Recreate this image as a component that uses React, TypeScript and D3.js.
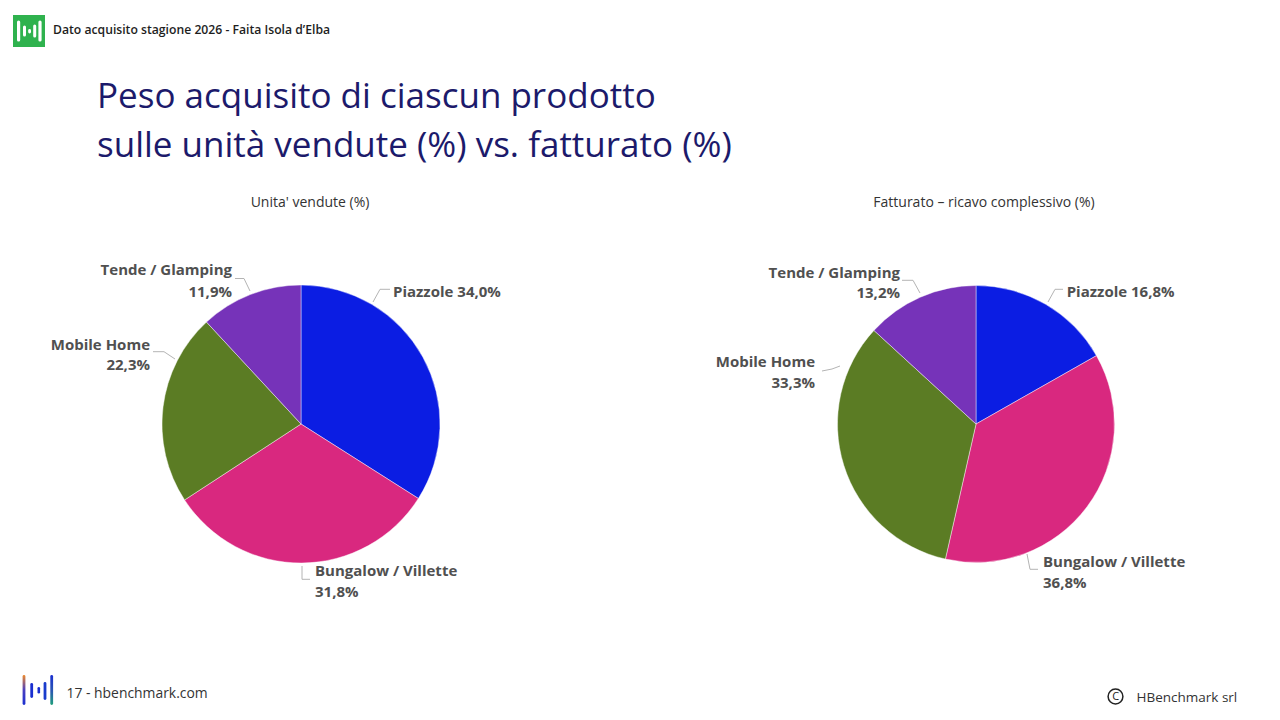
import React from "react";
import * as d3 from "d3";

const categories = ["Piazzole", "Bungalow / Villette", "Mobile Home", "Tende / Glamping"];
const unitsShare = [34.0, 31.8, 22.3, 11.9];
const revenueShare = [16.8, 36.8, 33.3, 13.2];
const colors = ["#0b1de3", "#d9287f", "#5b7c24", "#7633b9"];

const headerText = "Dato acquisito stagione 2026 - Faita Isola d\u2019Elba";
const titleLines = ["Peso acquisito di ciascun prodotto", "sulle unità vendute (%) vs. fatturato (%)"];
const pieTitles = ["Unita' vendute (%)", "Fatturato \u2013 ricavo complessivo (%)"];
const footerText = "17 - hbenchmark.com";
const copyrightText = "HBenchmark srl";

type LabelLayout = {
  leader: [number, number][];
  tx: number;
  ty: number[];
  anchor: "start" | "end";
  oneLine?: boolean;
};

// label placement (relative to pie centre), one per category
const leftLabels: LabelLayout[] = [
  { leader: [[72, -122], [79, -134.7], [89, -134.7]], tx: 92, ty: [-132.3], anchor: "start", oneLine: true },
  { leader: [[1, 142], [1, 155.3], [9, 155.3]], tx: 14, ty: [146.7, 167.7], anchor: "start" },
  { leader: [[-126, -65], [-137, -72.3], [-148, -72.3]], tx: -151, ty: [-79, -59], anchor: "end" },
  { leader: [[-51, -133], [-57, -145.5], [-66, -145.5]], tx: -69, ty: [-154, -132.3], anchor: "end" },
];
const rightLabels: LabelLayout[] = [
  { leader: [[72, -122], [79, -134.7], [87, -134.7]], tx: 90.7, ty: [-132.3], anchor: "start", oneLine: true },
  { leader: [[51, 130], [54, 145.3], [62, 145.3]], tx: 67, ty: [137.7, 158.7], anchor: "start" },
  { leader: [[-136, -58], [-144, -55], [-154, -53]], tx: -161, ty: [-62.3, -41.3], anchor: "end" },
  { leader: [[-56, -131], [-63, -143.7], [-74, -143.7]], tx: -76, ty: [-151.3, -131.3], anchor: "end" },
];

const fmt = (v: number) => d3.format(".1f")(v).replace(".", ",") + "%";
const FONT = "'Open Sans', sans-serif";

function Pie({ cx, cy, r, values, labels, title, titleX }: {
  cx: number; cy: number; r: number; values: number[]; labels: LabelLayout[]; title: string; titleX: number;
}) {
  const pie = d3.pie<number>().sort(null).value((d) => d);
  const arcs = pie(values);
  const arc = d3.arc<d3.PieArcDatum<number>>().innerRadius(0).outerRadius(r);
  const line = d3.line();
  return (
    <g>
      <text x={titleX} y={202} dy="0.35em" textAnchor="middle" fontSize={14} fill="#333" fontFamily={FONT}>
        {title}
      </text>
      <g transform={`translate(${cx},${cy})`}>
        {arcs.map((a, i) => (
          <path key={i} d={arc(a) || ""} fill={colors[i]} stroke="#ffffff" strokeOpacity={0.55} strokeWidth={0.8} />
        ))}
        {labels.map((l, i) => (
          <g key={i}>
            <path d={line(l.leader) || ""} fill="none" stroke="#b4b4b4" strokeWidth={1} />
            {l.oneLine ? (
              <text x={l.tx} y={l.ty[0]} dy="0.35em" textAnchor={l.anchor} fontSize={15} fontWeight={700} fill="#505050" fontFamily={FONT}>
                {categories[i] + " " + fmt(values[i])}
              </text>
            ) : (
              <text textAnchor={l.anchor} fontSize={15} fontWeight={700} fill="#505050" fontFamily={FONT}>
                <tspan x={l.tx} y={l.ty[0]} dy="0.35em">{categories[i]}</tspan>
                <tspan x={l.tx} y={l.ty[1]} dy="0.35em">{fmt(values[i])}</tspan>
              </text>
            )}
          </g>
        ))}
      </g>
    </g>
  );
}

export default function App() {
  return (
    <svg width={1280} height={720} style={{ position: "absolute", left: 0, top: 0, background: "#fff" }}>
      <defs>
        <linearGradient id="footGradA" gradientUnits="userSpaceOnUse" x1="0" y1="675" x2="0" y2="705">
          <stop offset="0" stopColor="#ee8a2c" />
          <stop offset="0.5" stopColor="#4a3fc0" />
          <stop offset="1" stopColor="#1a2fd0" />
        </linearGradient>
        <linearGradient id="footGradB" gradientUnits="userSpaceOnUse" x1="0" y1="675" x2="0" y2="705">
          <stop offset="0" stopColor="#1a2fd0" />
          <stop offset="0.55" stopColor="#2a5ab0" />
          <stop offset="1" stopColor="#1fa07a" />
        </linearGradient>
      </defs>
      <rect x={0} y={0} width={1280} height={720} fill="#fff" />

      {/* header logo */}
      <rect x={13} y={15} width={32} height={32} fill="#2fb24e" />
      <g fill="#fff">
        <rect x={17} y={20.5} width={3.2} height={21} rx={1.6} />
        <rect x={23} y={25.5} width={3} height={11} rx={1.5} />
        <rect x={28.2} y={29} width={2.8} height={4.5} rx={1.4} />
        <rect x={33.2} y={24.5} width={3} height={13} rx={1.5} />
        <rect x={38.4} y={20.5} width={3.2} height={21} rx={1.6} />
      </g>
      <text x={53} y={30} dy="0.35em" fontSize={12.2} fontWeight={600} fill="#1e1e1e" fontFamily={FONT}>
        {headerText}
      </text>

      {/* title */}
      {titleLines.map((t, i) => (
        <text key={i} x={97} y={108 + i * 49} fontSize={35} fill="#1c1a6b" fontFamily={FONT}>
          {t}
        </text>
      ))}

      <Pie cx={301} cy={424} r={139} values={unitsShare} labels={leftLabels} title={pieTitles[0]} titleX={310} />
      <Pie cx={976} cy={424} r={138.5} values={revenueShare} labels={rightLabels} title={pieTitles[1]} titleX={984} />

      {/* footer logo */}
      <rect x={22.6} y={675} width={2.8} height={30} rx={1.4} fill="url(#footGradA)" />
      <rect x={30.3} y={683} width={2.8} height={15} rx={1.4} fill="#1a2fd0" />
      <rect x={37.5} y={687} width={2.6} height={6.5} rx={1.3} fill="#1a2fd0" />
      <rect x={43.6} y={682} width={2.8} height={18} rx={1.4} fill="#1a3ccc" />
      <rect x={50.3} y={675} width={2.8} height={30} rx={1.4} fill="url(#footGradB)" />
      <text x={66.5} y={693} dy="0.35em" fontSize={13.9} fill="#333" fontFamily={FONT}>
        {footerText}
      </text>

      {/* copyright */}
      <circle cx={1115.5} cy={696.5} r={7.4} fill="none" stroke="#222" strokeWidth={1.5} />
      <text x={1115.6} y={696.6} dy="0.35em" textAnchor="middle" fontSize={11} fill="#222" fontFamily={FONT}>
        C
      </text>
      <text x={1136.5} y={697} dy="0.35em" fontSize={13.5} fill="#333" fontFamily={FONT}>
        {copyrightText}
      </text>
    </svg>
  );
}
